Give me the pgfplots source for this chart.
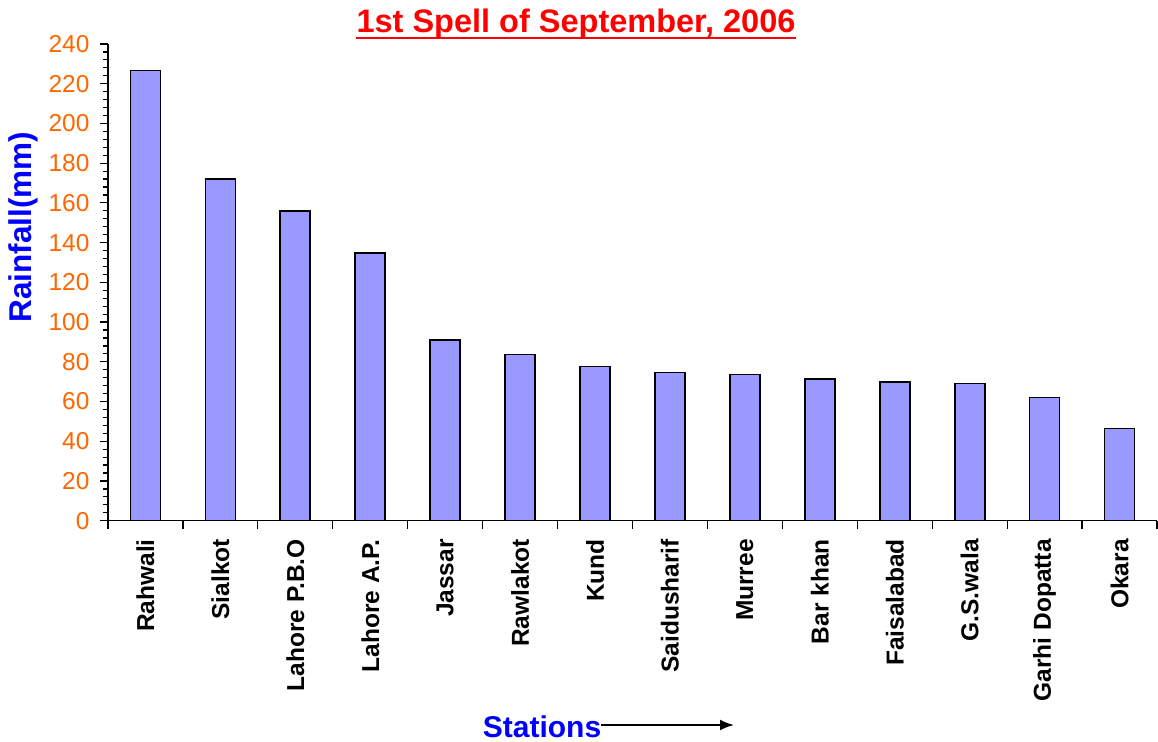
\documentclass[border=0pt]{standalone}
\usepackage{fontspec}
\setmainfont{Liberation Sans}
\usepackage{pgfplots}
\pgfplotsset{compat=1.18}
\usetikzlibrary{arrows.meta}
\definecolor{barfill}{HTML}{9999FF}
\definecolor{tickorange}{HTML}{FF6600}
\definecolor{titlered}{HTML}{FF0000}
\definecolor{labelblue}{HTML}{0000FF}

\begin{document}
\begin{tikzpicture}[x=1pt,y=1pt]
\path[use as bounding box] (0,0) rectangle (1158,741);
\begin{axis}[
  at={(108pt,220.3pt)}, anchor=south west,
  scale only axis, width=1049pt, height=476.7pt,
  ybar, bar width=30pt,
  xmin=-0.5, xmax=13.5, ymin=0, ymax=240,
  enlargelimits=false,
  axis lines*=left,
  axis line style={line width=1.4pt, black},
  tick align=outside,
  every tick/.style={black, line width=1.2pt},
  major tick length=8pt, minor tick length=5pt,
  ytick={0,20,...,240}, minor y tick num=4,
  yticklabel style={xshift=-7pt, font=\fontsize{24.5}{26}\selectfont, text=tickorange,
    /pgf/number format/assume math mode=true},
  xtick={-0.5,0.5,...,13.5}, xticklabels={},
  extra x ticks={0,1,...,13},
  extra x tick labels={Rahwali,Sialkot,Lahore P.B.O,Lahore A.P.,Jassar,Rawlakot,Kund,Saidusharif,Murree,Bar khan,Faisalabad,G.S.wala,Garhi Dopatta,Okara},
  extra x tick style={major tick length=0pt,
    tick label style={yshift=-15pt, rotate=90, anchor=east, font=\bfseries\fontsize{24.5}{26}\selectfont}},
]
\addplot[fill=barfill, draw=black, line width=1.7pt] coordinates {
  (0,226.6) (1,172.0) (2,156.0) (3,134.6) (4,90.8) (5,83.7) (6,77.7)
  (7,74.6) (8,73.6) (9,71.3) (10,69.8) (11,69.1) (12,62.0) (13,46.4)
};
\end{axis}
\node[inner sep=0, anchor=base, text=titlered, font=\bfseries\fontsize{32.5}{34}\selectfont] (t) at (576,708) {1st Spell of September, 2006};
\draw[titlered, line width=2.6pt] ([yshift=-5pt]t.base west) -- ([yshift=-5pt]t.base east);
\node[rotate=90, inner sep=0, text=labelblue, font=\bfseries\fontsize{31.5}{33}\selectfont] at (23,514) {Rainfall(mm)};
\node[inner sep=0, anchor=base, text=labelblue, font=\bfseries\fontsize{30}{32}\selectfont] at (542,4) {Stations};
\draw[-{Latex[length=14pt,width=11pt]}, line width=2pt] (601,16) -- (734,16);
\end{tikzpicture}
\end{document}
